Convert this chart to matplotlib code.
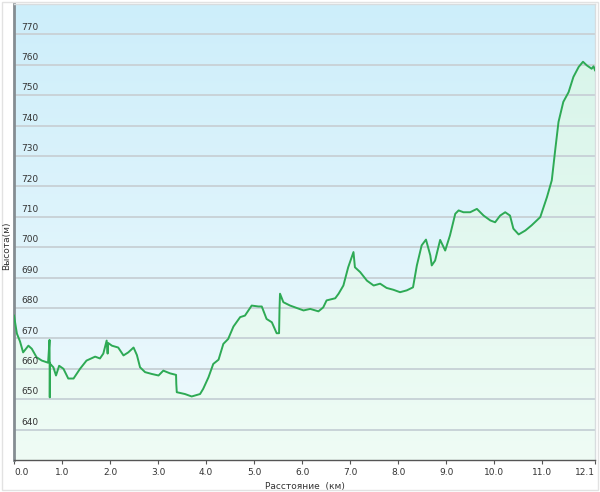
import numpy as np
import matplotlib
matplotlib.use("Agg")
import matplotlib.pyplot as plt
from matplotlib.colors import LinearSegmentedColormap
from matplotlib.patches import Rectangle

# distance (km) and elevation (m)
dist_km = [0.00, 0.06, 0.125, 0.19, 0.30, 0.37, 0.47, 0.58, 0.71, 0.74, 0.745, 0.75, 0.755, 0.76,
           0.82, 0.875, 0.94, 1.03, 1.13, 1.24, 1.375, 1.51, 1.69, 1.79, 1.86, 1.93, 1.95, 1.96,
           2.04, 2.17, 2.28, 2.38, 2.49, 2.56, 2.625, 2.73, 2.87, 3.01, 3.11, 3.25, 3.375, 3.38,
           3.39, 3.56, 3.70, 3.875, 3.94, 4.05, 4.15, 4.26, 4.36, 4.46, 4.57, 4.71, 4.81, 4.95,
           5.09, 5.16, 5.26, 5.37, 5.47, 5.52, 5.53, 5.54, 5.61, 5.75, 5.89, 6.03, 6.17, 6.34,
           6.44, 6.51, 6.69, 6.76, 6.86, 6.96, 7.07, 7.10, 7.21, 7.35, 7.49, 7.625, 7.76, 7.90,
           8.04, 8.18, 8.31, 8.39, 8.49, 8.58, 8.67, 8.70, 8.77, 8.875, 8.98, 9.08, 9.19, 9.26,
           9.36, 9.50, 9.64, 9.78, 9.92, 10.02, 10.125, 10.23, 10.33, 10.40, 10.51, 10.65, 10.78,
           10.96, 11.10, 11.20, 11.27, 11.34, 11.44, 11.55, 11.65, 11.76, 11.85, 11.93, 12.03,
           12.07, 12.10]
elev_m = [677.5, 671.6, 669.0, 665.4, 667.6, 666.6, 663.8, 662.7, 662.0, 669.5, 650.6, 662.0, 661.0, 661.5,
          660.5, 657.8, 661.0, 660.0, 656.8, 656.8, 660.0, 662.7, 664.0, 663.4, 665.0, 669.3, 665.0, 668.5,
          667.6, 667.0, 664.4, 665.4, 667.0, 664.5, 660.5, 658.9, 658.3, 657.8, 659.4, 658.5, 658.0, 655.0,
          652.3, 651.7, 650.9, 651.7, 653.4, 657.2, 661.6, 663.0, 668.2, 669.8, 673.9, 677.0, 677.5, 680.8,
          680.5, 680.5, 676.4, 675.3, 671.7, 671.7, 680.0, 684.7, 681.9, 680.8, 680.0, 679.2, 679.7, 678.9,
          680.2, 682.5, 683.2, 684.7, 687.4, 693.4, 698.4, 693.4, 691.8, 689.0, 687.4, 688.0, 686.6, 686.0,
          685.2, 685.8, 686.8, 694.0, 700.6, 702.5, 697.3, 694.0, 695.6, 702.4, 698.9, 703.9, 711.0, 712.1,
          711.5, 711.5, 712.6, 710.4, 708.8, 708.2, 710.4, 711.5, 710.4, 706.1, 704.2, 705.5, 707.2,
          709.9, 716.5, 722.0, 731.8, 741.2, 747.8, 751.0, 756.0, 759.3, 761.0, 759.8, 758.7,
          759.5, 758.2]

y_ticks = [640, 650, 660, 670, 680, 690, 700, 710, 720, 730, 740, 750, 760, 770]
x_ticks = [0, 1, 2, 3, 4, 5, 6, 7, 8, 9, 10, 11, 12.1]
x_labels = ["0.0", "1.0", "2.0", "3.0", "4.0", "5.0", "6.0", "7.0", "8.0", "9.0", "10.0", "11.0", "12.1"]

fig = plt.figure(figsize=(6, 4.92), dpi=100)
fig.patches.append(Rectangle((0.004, 0.004), 0.992, 0.992, transform=fig.transFigure,
                             fill=False, edgecolor="#e2e2e2", linewidth=1))
ax = fig.add_axes([14 / 600, 32 / 492, 581 / 600, 456 / 492])
ax.set_xlim(0, 12.1)
ax.set_ylim(630, 780)

# sky-blue background gradient
bg = LinearSegmentedColormap.from_list("bg", ["#f0fafd", "#cdeefa"])
grad = np.linspace(0, 1, 256).reshape(-1, 1)
ax.imshow(grad, cmap=bg, origin="lower", aspect="auto", extent=[0, 12.1, 630, 780], zorder=0)

# green gradient under the profile
poly = ax.fill_between(dist_km, elev_m, 630, color="none", linewidth=0)
gr = LinearSegmentedColormap.from_list("gr", ["#effcf5", "#d6f4e9"])
im = ax.imshow(grad, cmap=gr, origin="lower", aspect="auto", extent=[0, 12.1, 630, 780], zorder=1)
im.set_clip_path(poly.get_paths()[0], transform=ax.transData)

for v in y_ticks:
    ax.axhline(v, color="#c9d3d8", linewidth=1.4, zorder=2)
    ax.annotate(str(v), xy=(0, v), xycoords=("axes fraction", "data"), xytext=(5, 2),
                textcoords="offset points", fontsize=6.5, color="#333333", va="bottom", zorder=5)

ax.plot(dist_km, elev_m, color="#2eaa55", linewidth=1.4, zorder=4)

ax.set_yticks([])
ax.set_xticks(x_ticks)
ax.set_xticklabels(x_labels, fontsize=6.5, color="#333333")
ax.tick_params(axis="x", length=3, width=0.8, color="#555555", pad=3)
ticklabels = ax.get_xticklabels()
ticklabels[0].set_horizontalalignment("left")
ticklabels[-1].set_horizontalalignment("right")

for s in ["top", "right"]:
    ax.spines[s].set_color("#d8dcde")
    ax.spines[s].set_linewidth(1)
ax.spines["left"].set_color("#858d92")
ax.spines["left"].set_linewidth(2)
ax.spines["bottom"].set_color("#555555")
ax.spines["bottom"].set_linewidth(1)

ax.set_xlabel("Расстояние  (км)", fontsize=6.5, color="#333333", labelpad=3)
fig.text(0.011, 0.5, "Высота(м)", rotation=90, fontsize=6.5, color="#333333", va="center", ha="center")

fig.savefig("out.png", dpi=100)
